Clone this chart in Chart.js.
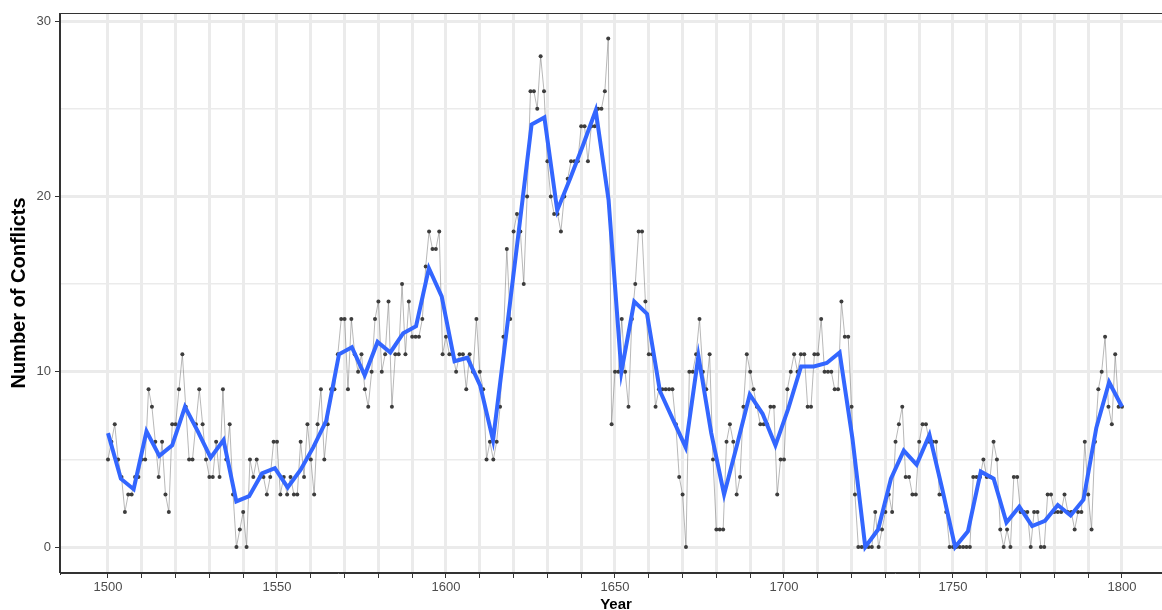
<!DOCTYPE html>
<html>
<head>
<meta charset="utf-8">
<title>Number of Conflicts per Year</title>
<script src="https://cdn.jsdelivr.net/npm/chart.js@4.4.1/dist/chart.umd.min.js"></script>
<style>
  html, body { margin: 0; padding: 0; background: #fff; overflow: hidden; }
  #conflictChart { display: block; }
</style>
</head>
<body>
<canvas id="conflictChart" width="1180" height="616"></canvas>
<script>
// yearly counts, 1500 .. 1800 (one value per year)
const FIRST_YEAR = 1500;
const CONFLICTS = [
  5, 6, 7, 5, 4, 2, 3, 3, 4, 4,        // 1500
  5, 5, 9, 8, 6, 4, 6, 3, 2, 7,        // 1510
  7, 9, 11, 8, 5, 5, 7, 9, 7, 5,       // 1520
  4, 4, 6, 4, 9, 5, 7, 3, 0, 1,        // 1530
  2, 0, 5, 4, 5, 4, 4, 3, 4, 6,        // 1540
  6, 3, 4, 3, 4, 3, 3, 6, 4, 7,        // 1550
  5, 3, 7, 9, 5, 7, 9, 9, 11, 13,      // 1560
  13, 9, 13, 11, 10, 11, 9, 8, 10, 13, // 1570
  14, 10, 11, 14, 8, 11, 11, 15, 11, 14, // 1580
  12, 12, 12, 13, 16, 18, 17, 17, 18, 11, // 1590
  12, 11, 11, 10, 11, 11, 9, 11, 10, 13, // 1600
  10, 9, 5, 6, 5, 6, 8, 12, 17, 13,    // 1610
  18, 19, 18, 15, 20, 26, 26, 25, 28, 26, // 1620
  22, 20, 19, 19, 18, 20, 21, 22, 22, 22, // 1630
  24, 24, 22, 24, 24, 25, 25, 26, 29, 7, // 1640
  10, 10, 13, 10, 8, 13, 15, 18, 18, 14, // 1650
  11, 11, 8, 9, 9, 9, 9, 9, 7, 4,      // 1660
  3, 0, 10, 10, 11, 13, 10, 9, 11, 5,  // 1670
  1, 1, 1, 6, 7, 6, 3, 4, 8, 11,       // 1680
  10, 9, 8, 7, 7, 7, 8, 8, 3, 5,       // 1690
  5, 9, 10, 11, 10, 11, 11, 8, 8, 11,  // 1700
  11, 13, 10, 10, 10, 9, 9, 14, 12, 12, // 1710
  8, 3, 0, 0, 0, 0, 0, 2, 0, 1,        // 1720
  2, 3, 2, 6, 7, 8, 4, 4, 3, 3,        // 1730
  6, 7, 7, 6, 6, 6, 3, 3, 2, 0,        // 1740
  0, 0, 0, 0, 0, 0, 4, 4, 4, 5,        // 1750
  4, 4, 6, 5, 1, 0, 1, 0, 4, 4,        // 1760
  2, 2, 2, 0, 2, 2, 0, 0, 3, 3,        // 1770
  2, 2, 2, 3, 2, 2, 1, 2, 2, 6,        // 1780
  3, 1, 6, 9, 10, 12, 8, 7, 11, 8,     // 1790
  8                                    // 1800
];

// smoothed trend (blue) at its 80 vertices
const SMOOTH_YEARS = [
  1500.00, 1503.80, 1507.59, 1511.39, 1515.19, 1518.99, 1522.78, 1526.58, 1530.38, 1534.18,
  1537.97, 1541.77, 1545.57, 1549.37, 1553.16, 1556.96, 1560.76, 1564.56, 1568.35, 1572.15,
  1575.95, 1579.75, 1583.54, 1587.34, 1591.14, 1594.94, 1598.73, 1602.53, 1606.33, 1610.13,
  1613.92, 1617.72, 1621.52, 1625.32, 1629.11, 1632.91, 1636.71, 1640.51, 1644.30, 1648.10,
  1651.90, 1655.70, 1659.49, 1663.29, 1667.09, 1670.89, 1674.68, 1678.48, 1682.28, 1686.08,
  1689.87, 1693.67, 1697.47, 1701.27, 1705.06, 1708.86, 1712.66, 1716.46, 1720.25, 1724.05,
  1727.85, 1731.65, 1735.44, 1739.24, 1743.04, 1746.84, 1750.63, 1754.43, 1758.23, 1762.03,
  1765.82, 1769.62, 1773.42, 1777.22, 1781.01, 1784.81, 1788.61, 1792.41, 1796.20, 1800.00
];
const SMOOTH_VALUES = [
  6.5, 3.9, 3.3, 6.6, 5.2, 5.8, 8.0, 6.6, 5.1, 6.1,
  2.6, 2.9, 4.2, 4.5, 3.4, 4.4, 5.7, 7.2, 11.0, 11.4,
  9.8, 11.7, 11.1, 12.2, 12.6, 15.9, 14.3, 10.6, 10.8, 9.2,
  6.1, 12.0, 18.0, 24.1, 24.5, 19.2, 21.0, 22.9, 24.9, 19.8,
  10.0, 14.0, 13.3, 8.9, 7.3, 5.7, 10.9, 6.5, 3.0, 5.8,
  8.7, 7.6, 5.8, 7.9, 10.3, 10.3, 10.5, 11.1, 6.2, 0.0,
  1.0, 3.9, 5.5, 4.7, 6.4, 3.3, 0.0, 0.9, 4.3, 3.9,
  1.4, 2.3, 1.2, 1.5, 2.4, 1.8, 2.7, 6.8, 9.4, 8.0
];

// axis breaks
const X_TICKS = [1500, 1510, 1520, 1530, 1540, 1550, 1560, 1570, 1580, 1590, 1600,
  1610, 1620, 1630, 1640, 1650, 1660, 1670, 1680, 1690, 1700,
  1710, 1720, 1730, 1740, 1750, 1760, 1770, 1780, 1790, 1800];
const X_LABELS = [1500, 1550, 1600, 1650, 1700, 1750, 1800];
const Y_TICKS = [0, 5, 10, 15, 20, 25, 30];
const Y_LABELS = [0, 10, 20, 30];

const GRID = '#ebebeb';
const AXIS = '#333333';
const TICK_TEXT = '#4d4d4d';
const FONT = '"Liberation Sans", Arial, sans-serif';

const panelBorder = {
  id: 'panelBorder',
  afterDraw(chart) {
    const { ctx, chartArea: a } = chart;
    ctx.save();
    ctx.strokeStyle = AXIS;
    ctx.lineWidth = 1;
    ctx.strokeRect(Math.round(a.left) - 0.5, Math.round(a.top) + 0.5,
      Math.round(a.right - a.left) + 1, Math.round(a.bottom - a.top) - 1);
    ctx.restore();
  }
};

function renderConflictChart() {
  const canvas = document.getElementById('conflictChart');
  const yearly = CONFLICTS.map((v, i) => ({ x: FIRST_YEAR + i, y: v }));
  const smooth = SMOOTH_YEARS.map((yr, i) => ({ x: yr, y: SMOOTH_VALUES[i] }));

  new Chart(canvas.getContext('2d'), {
    type: 'line',
    data: {
      datasets: [
        {
          label: 'Smoothed',
          data: smooth,
          order: 0,
          borderColor: '#3366FF',
          borderWidth: 4,
          pointRadius: 0,
          tension: 0,
          fill: false,
        },
        {
          label: 'Conflicts',
          data: yearly,
          order: 1,
          borderColor: '#707070',
          borderWidth: 0.5,
          pointRadius: 2,
          pointBorderWidth: 0,
          pointBackgroundColor: '#3d3d3d',
          tension: 0,
          fill: false,
        },
      ],
    },
    options: {
      responsive: false,
      animation: false,
      events: [],
      layout: { padding: { top: 13, right: 8, left: 0, bottom: 0 } },
      plugins: {
        legend: { display: false },
        tooltip: { enabled: false },
      },
      scales: {
        x: {
          type: 'linear',
          min: 1485.8,
          max: 1814.8,
          afterBuildTicks: (scale) => { scale.ticks = X_TICKS.map((v) => ({ value: v })); },
          afterFit: (scale) => { scale.height = 43; },
          grid: {
            color: GRID,
            lineWidth: 3,
            drawTicks: true,
            tickLength: 5,
            tickColor: AXIS,
            tickWidth: 1,
          },
          border: { display: true, color: AXIS, width: 1 },
          ticks: {
            autoSkip: false,
            maxRotation: 0,
            padding: 2,
            color: TICK_TEXT,
            font: { family: FONT, size: 13 },
            callback: (v) => (X_LABELS.includes(v) ? String(v) : ''),
          },
          title: {
            display: true,
            text: 'Year',
            color: '#000',
            font: { family: FONT, size: 15, weight: 'bold' },
            padding: { top: 0, bottom: 2 },
          },
        },
        y: {
          type: 'linear',
          min: -1.48,
          max: 30.46,
          afterBuildTicks: (scale) => { scale.ticks = Y_TICKS.map((v) => ({ value: v })); },
          afterFit: (scale) => { scale.width = 60; },
          grid: {
            color: GRID,
            lineWidth: (c) => (c.tick && c.tick.value % 10 === 0 ? 3 : 1.5),
            drawTicks: true,
            tickLength: 5,
            tickColor: (c) => (c.tick && c.tick.value % 10 === 0 ? AXIS : 'rgba(0,0,0,0)'),
            tickWidth: 1,
          },
          border: { display: true, color: AXIS, width: 1 },
          ticks: {
            autoSkip: false,
            padding: 4,
            color: TICK_TEXT,
            font: { family: FONT, size: 13 },
            callback: (v) => (Y_LABELS.includes(v) ? String(v) : ''),
          },
          title: {
            display: true,
            text: 'Number of Conflicts',
            color: '#000',
            font: { family: FONT, size: 20, weight: 'bold' },
            padding: { top: 7, bottom: 0 },
          },
        },
      },
    },
    plugins: [panelBorder],
  });
}

document.addEventListener('DOMContentLoaded', renderConflictChart);
</script>
</body>
</html>
